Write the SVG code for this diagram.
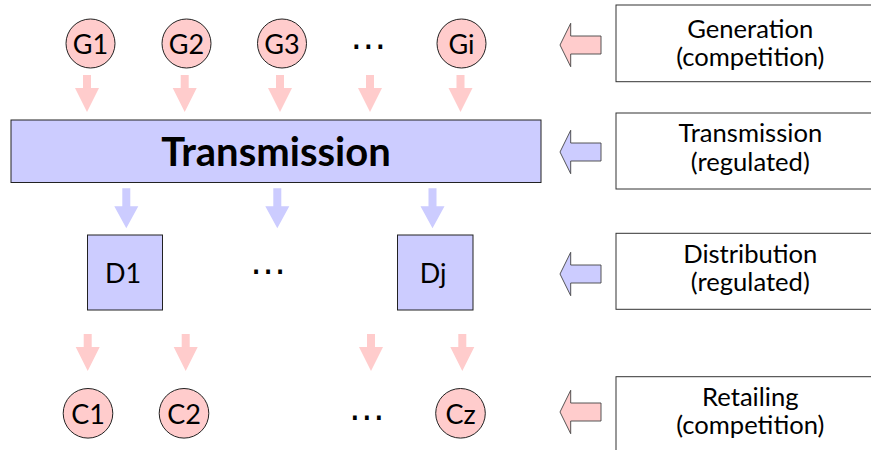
<svg xmlns="http://www.w3.org/2000/svg" width="871" height="450" viewBox="0 0 871 450">
  <defs>
    <style>
      .lbl { font-family: Lato, "Open Sans", sans-serif; fill: #000; text-anchor: middle; }
      .node-lbl { font-size: 27px; }
      .side-lbl { font-size: 25.6px; }
      .title { font-size: 40px; font-weight: bold; }
      .dots { font-family: "DejaVu Sans", sans-serif; font-size: 36px; text-anchor: middle; fill: #000; }
      .pink { fill: #ffcccc; }
      .blue { fill: #ccccff; }
      .node { stroke: #222; stroke-width: 1; }
      .side-box { fill: #fff; stroke: #333; stroke-width: 1; }
      .side-arrow { stroke: #444; stroke-width: 0.9; }
    </style>
    <!-- downward block arrow: shaft 8 wide, head 24 wide -->
    <path id="down-a" d="M-4,0 H4 V13 H12 L0,37 L-12,13 H-4 Z"/>
    <path id="down-b" d="M-4,0 H4 V18 H12 L0,40 L-12,18 H-4 Z"/>
    <!-- leftward block arrow, tip at origin -->
    <path id="left" d="M0,0 L10.7,-21.7 V-9 H41 V9 H10.7 V21.7 Z"/>
  </defs>

  <!-- generators -->
  <g id="G1"><circle class="node pink" cx="90.5" cy="43.5" r="24.5"/><text class="lbl node-lbl" x="90.5" y="53.5">G1</text></g>
  <g id="G2"><circle class="node pink" cx="186.5" cy="43.5" r="24.5"/><text class="lbl node-lbl" x="186.5" y="53.5">G2</text></g>
  <g id="G3"><circle class="node pink" cx="282" cy="43.5" r="24.5"/><text class="lbl node-lbl" x="282" y="53.5">G3</text></g>
  <text class="dots" x="368.3" y="58">⋯</text>
  <g id="Gi"><circle class="node pink" cx="461.5" cy="43.5" r="24.5"/><text class="lbl node-lbl" x="461.5" y="53.5">Gi</text></g>

  <!-- transmission grid -->
  <g id="transmission">
    <rect class="node blue" x="11" y="120" width="530" height="62.5"/>
    <text class="lbl title" x="276" y="165.5">Transmission</text>
  </g>

  <!-- distribution companies -->
  <g id="D1"><rect class="node blue" x="87.5" y="235" width="75" height="75"/><text class="lbl node-lbl" x="123" y="283">D1</text></g>
  <text class="dots" x="268" y="282.5">⋯</text>
  <g id="Dj"><rect class="node blue" x="397.5" y="235" width="75.5" height="75"/><text class="lbl node-lbl" x="433" y="283">Dj</text></g>

  <!-- consumers -->
  <g id="C1"><circle class="node pink" cx="88" cy="413.3" r="24.8"/><text class="lbl node-lbl" x="88" y="423.5">C1</text></g>
  <g id="C2"><circle class="node pink" cx="184" cy="413.3" r="24.8"/><text class="lbl node-lbl" x="184" y="423.5">C2</text></g>
  <text class="dots" x="366.7" y="429">⋯</text>
  <g id="Cz"><circle class="node pink" cx="460.5" cy="413.3" r="24.8"/><text class="lbl node-lbl" x="460.5" y="423.5">Cz</text></g>

  <!-- flows between the levels -->
  <g id="connectors">
    <use href="#down-a" class="pink" x="87" y="75"/>
    <use href="#down-a" class="pink" x="184.7" y="75"/>
    <use href="#down-a" class="pink" x="280" y="75"/>
    <use href="#down-a" class="pink" x="370" y="75"/>
    <use href="#down-a" class="pink" x="460.5" y="75"/>

    <use href="#down-b" class="blue" x="126.3" y="188.3"/>
    <use href="#down-b" class="blue" x="277.3" y="188.3"/>
    <use href="#down-b" class="blue" x="432.5" y="188.3"/>

    <use href="#down-a" class="pink" x="87.7" y="334"/>
    <use href="#down-a" class="pink" x="185.7" y="334"/>
    <use href="#down-a" class="pink" x="371" y="334"/>
    <use href="#down-a" class="pink" x="462.3" y="334"/>

    <use href="#left" class="pink side-arrow" x="560" y="45"/>
    <use href="#left" class="blue side-arrow" x="560" y="152"/>
    <use href="#left" class="blue side-arrow" x="560" y="274"/>
    <use href="#left" class="pink side-arrow" x="560" y="412"/>
  </g>

  <!-- legend of market segments -->
  <g id="seg-generation">
    <rect class="side-box" x="616" y="5" width="268" height="76.7"/>
    <text class="lbl side-lbl" x="750.3" y="37.7">Generation</text>
    <text class="lbl side-lbl" x="750.3" y="65.5">(competition)</text>
  </g>
  <g id="seg-transmission">
    <rect class="side-box" x="616" y="113" width="268" height="76"/>
    <text class="lbl side-lbl" x="750.3" y="142.3">Transmission</text>
    <text class="lbl side-lbl" x="750.3" y="170.5">(regulated)</text>
  </g>
  <g id="seg-distribution">
    <rect class="side-box" x="616" y="233.3" width="268" height="76"/>
    <text class="lbl side-lbl" x="750.3" y="262.5">Distribution</text>
    <text class="lbl side-lbl" x="750.3" y="290.5">(regulated)</text>
  </g>
  <g id="seg-retailing">
    <rect class="side-box" x="616" y="376.7" width="268" height="80"/>
    <text class="lbl side-lbl" x="750.3" y="406">Retailing</text>
    <text class="lbl side-lbl" x="750.3" y="434">(competition)</text>
  </g>
</svg>
